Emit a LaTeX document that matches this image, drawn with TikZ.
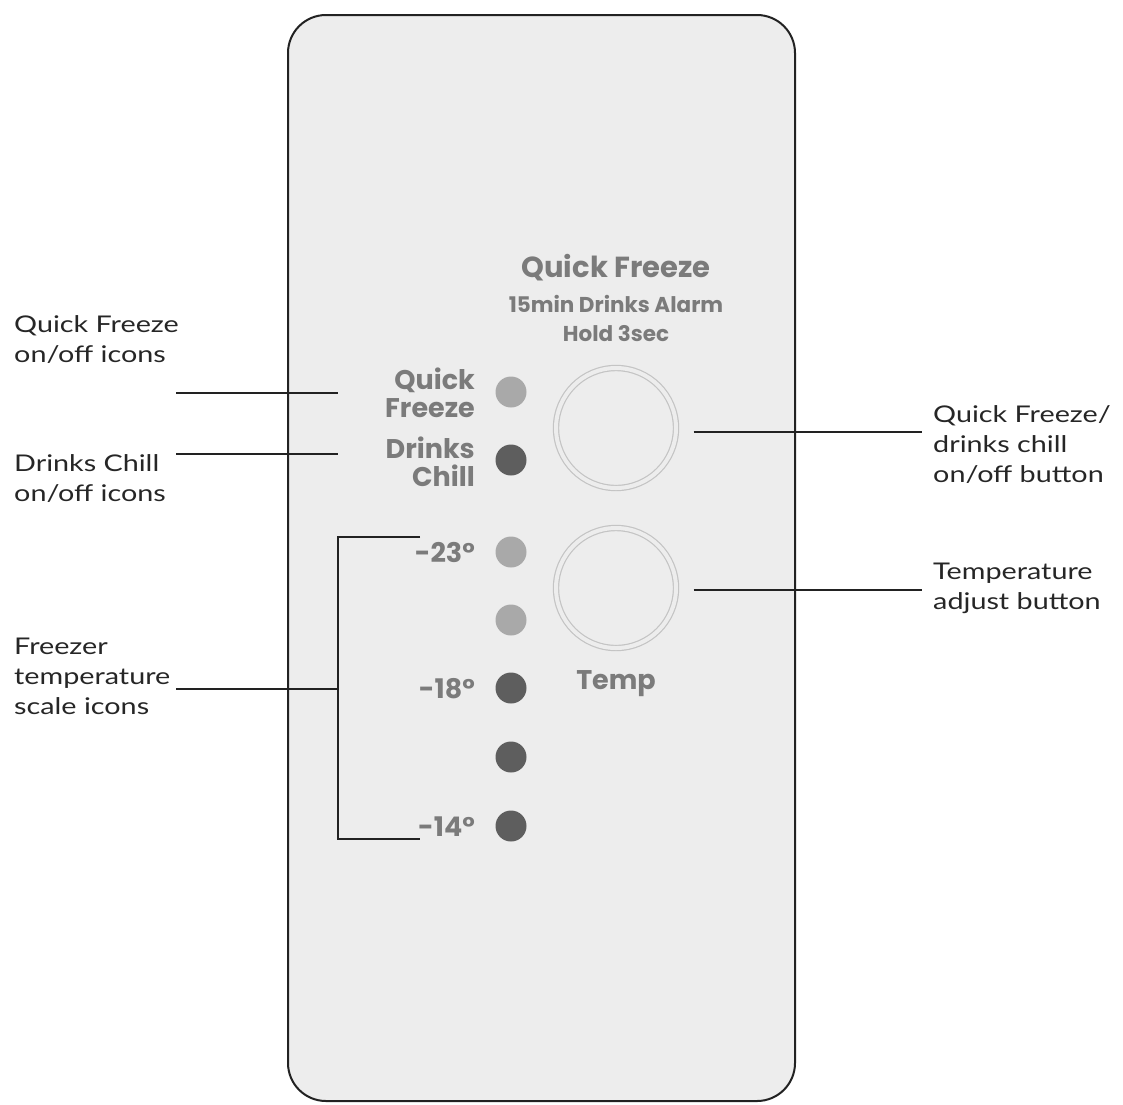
\documentclass[tikz,border=0pt]{standalone}
\usepackage{fontspec}
\setmainfont{Lato}[FakeStretch=1.25]
\newfontfamily\panelfont{Poppins}
\definecolor{panelbg}{HTML}{EDEDED}
\definecolor{paneltxt}{HTML}{7B7B7B}
\definecolor{ledlight}{HTML}{A9A9A9}
\definecolor{leddark}{HTML}{5E5E5E}
\definecolor{ring}{HTML}{C4C4C4}
\definecolor{leader}{HTML}{222222}
\begin{document}
\begin{tikzpicture}[x=1pt,y=-1pt,
  annot/.style={font=\fontsize{23}{30}\selectfont, text=black!85, inner sep=0pt, align=left},
  ptxt/.style={font=\panelfont\bfseries\fontsize{27}{28}\selectfont, text=paneltxt, inner sep=0pt},
  phead/.style={font=\panelfont\bfseries\fontsize{29}{30}\selectfont, text=paneltxt, inner sep=0pt},
  psmall/.style={font=\panelfont\bfseries\fontsize{21.5}{29}\selectfont, text=paneltxt, inner sep=0pt, align=center},
  ledl/.style={circle, fill=ledlight, minimum size=31pt, inner sep=0pt},
  ledd/.style={circle, fill=leddark, minimum size=31pt, inner sep=0pt},
  btn/.style={circle, draw=ring, line width=1.2pt, double=panelbg, double distance=4pt, minimum size=120pt, inner sep=0pt},
  lead/.style={draw=leader, line width=1.8pt}
]
\useasboundingbox (0,0) rectangle (1123,1104);
% panel
\draw[fill=panelbg, draw=leader, line width=2pt, rounded corners=38pt] (288,15) rectangle (795,1101);
% header texts
\node[phead] (hqf) at (616,268) {Quick Freeze};
\node[psmall] (hsub) at (616,318) {15min Drinks Alarm\\Hold 3sec};
% left panel labels
\node[ptxt, anchor=east] (lq) at (475,380) {Quick};
\node[ptxt, anchor=east] (lf) at (475,408) {Freeze};
\node[ptxt, anchor=east] (ld) at (475,448) {Drinks};
\node[ptxt, anchor=east] (lc) at (475,476) {Chill};
\node[ptxt, anchor=east] (t23) at (475,552) {-23°};
\node[ptxt, anchor=east] (t18) at (475,689) {-18°};
\node[ptxt, anchor=east] (t14) at (475,827) {-14°};
% LEDs
\node[ledl] (l1) at (511,392) {};
\node[ledd] (l2) at (511,460) {};
\node[ledl] (l3) at (511,552) {};
\node[ledl] (l4) at (511,620) {};
\node[ledd] (l5) at (511,688) {};
\node[ledd] (l6) at (511,757) {};
\node[ledd] (l7) at (511,826) {};
% buttons
\node[btn] (b1) at (616,428) {};
\node[btn] (b2) at (616,588) {};
\node[ptxt] (temp) at (616,684) {Temp};
% annotations
\node[annot, anchor=west] (a1) at (14,340) {Quick Freeze\\on/off icons};
\node[annot, anchor=west] (a2) at (14,479) {Drinks Chill\\on/off icons};
\node[annot, anchor=west] (a3) at (14,676) {Freezer\\temperature\\scale icons};
\node[annot, anchor=west] (a4) at (933,445) {Quick Freeze/\\drinks chill\\on/off button};
\node[annot, anchor=west] (a5) at (933,588) {Temperature\\adjust button};
% leader coordinates
\coordinate (qfL) at (176,393);
\coordinate (qfR) at (338,393);
\coordinate (dcL) at (176,454);
\coordinate (dcR) at (338,454);
\coordinate (frL) at (176,689);
\coordinate (brM) at (338,689);
\coordinate (brT) at (420,537);
\coordinate (brB) at (420,839);
\coordinate (b1R) at (922,432);
\coordinate (b2R) at (922,590);
\draw[lead] (qfL) -- (qfR);
\draw[lead] (dcL) -- (dcR);
\draw[lead] (frL) -- (brM);
\draw[lead] (brT) -- (338,537) -- (338,839) -- (brB);
\draw[lead] (b1.east) ++(17,4) -- (b1R);
\draw[lead] (b2.east) ++(17,2) -- (b2R);
\end{tikzpicture}
\end{document}
